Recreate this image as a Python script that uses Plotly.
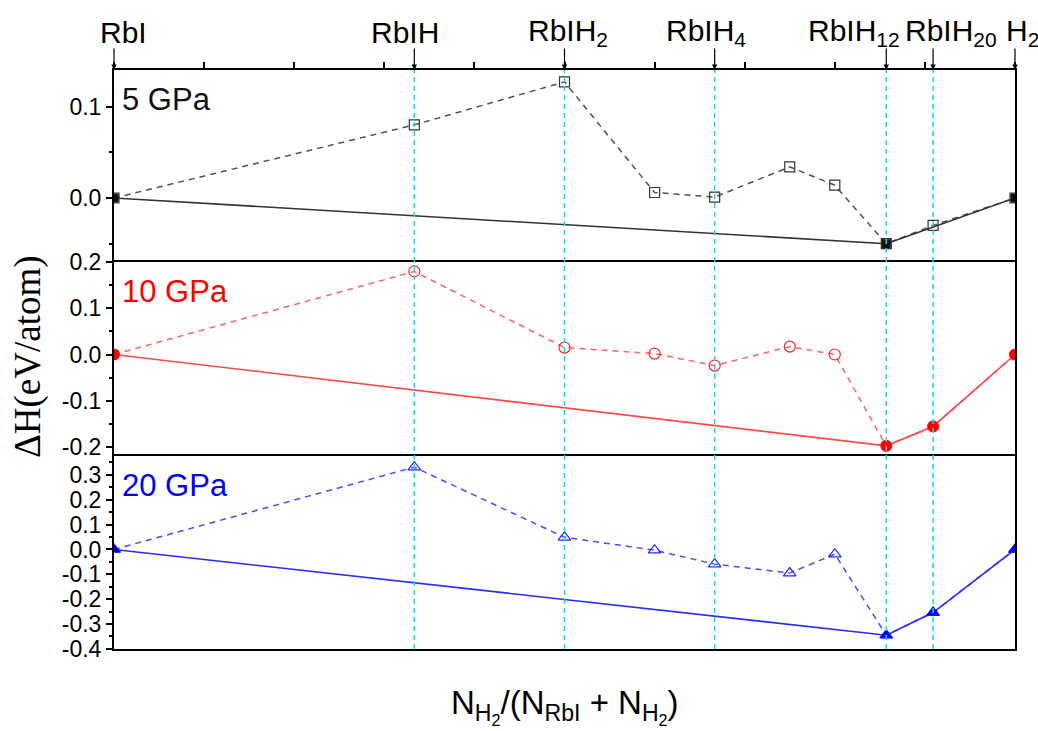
import plotly.graph_objects as go

# Composition x = N_H2 / (N_RbI + N_H2)
compounds = ["RbI", "RbIH", "RbIH2", "RbIH3", "RbIH4", "RbIH6", "RbIH8", "RbIH12", "RbIH20", "H2"]
x_frac = [0, 1/3, 1/2, 3/5, 2/3, 3/4, 4/5, 6/7, 10/11, 1]

# Formation enthalpies (eV/atom)
dh_5gpa = [0.0, 0.080, 0.127, 0.006, 0.001, 0.034, 0.014, -0.050, -0.030, 0.0]
dh_10gpa = [0.0, 0.180, 0.015, 0.002, -0.024, 0.017, 0.000, -0.198, -0.156, 0.0]
dh_20gpa = [0.0, 0.331, 0.049, -0.003, -0.059, -0.095, -0.019, -0.345, -0.254, 0.0]

# Phases on the convex hull at each pressure
hull_5gpa = ["RbI", "RbIH12", "H2"]
hull_10gpa = ["RbI", "RbIH12", "RbIH20", "H2"]
hull_20gpa = ["RbI", "RbIH12", "RbIH20", "H2"]

# Top-axis composition labels
top_names = ["RbI", "RbIH", "RbIH2", "RbIH4", "RbIH12", "RbIH20", "H2"]
top_labels = ["RbI", "RbIH", "RbIH<sub>2</sub>", "RbIH<sub>4</sub>", "RbIH<sub>12</sub>",
              "RbIH<sub>20</sub>", "H<sub>2</sub>"]
top_label_shift = [-16, -45, -39, -51, -80, -30, -11]
guide_names = ["RbIH", "RbIH2", "RbIH4", "RbIH12", "RbIH20"]

# y tick labels per panel
ticks_5 = [0.1, 0.0]
ticks_10 = [0.2, 0.1, 0.0, -0.1, -0.2]
ticks_20 = [0.3, 0.2, 0.1, 0.0, -0.1, -0.2, -0.3, -0.4]

W, H = 1038, 731
FONT = "Liberation Sans, Arial, sans-serif"
x_dom = [114 / W, 1015 / W]
y_edges = [70, 262, 456, 649]
ydoms = [[1 - y_edges[i + 1] / H, 1 - y_edges[i] / H] for i in range(3)]

xpos = dict(zip(compounds, x_frac))

panels = [
    dict(name="5 GPa", dh=dh_5gpa, hull=hull_5gpa, color="#111111", line="#333333",
         open_sym="square-open", fill_sym="square", osize=10, fsize=9,
         rng=[-0.07, 0.14], ticks=ticks_5),
    dict(name="10 GPa", dh=dh_10gpa, hull=hull_10gpa, color="#ff0000", line="#ff4a4a",
         open_sym="circle-open", fill_sym="circle", osize=11, fsize=11,
         rng=[-0.22, 0.2005], ticks=ticks_10),
    dict(name="20 GPa", dh=dh_20gpa, hull=hull_20gpa, color="#0000ff", line="#2b2bff",
         open_sym="triangle-up-open", fill_sym="triangle-up", osize=11, fsize=12,
         rng=[-0.4005, 0.376], ticks=ticks_20),
]

fig = go.Figure()
annotations = []
shapes = []
layout = dict(
    template="none",
    width=W, height=H, autosize=False,
    margin=dict(l=0, r=0, t=0, b=0, pad=0),
    paper_bgcolor="white", plot_bgcolor="white",
    showlegend=False,
    font=dict(family=FONT, size=23, color="black"),
)

for i, p in enumerate(panels):
    k = "" if i == 0 else str(i + 1)
    xa, ya = "x" + k, "y" + k
    dh = p["dh"]
    # all computed structures, dashed
    fig.add_trace(go.Scatter(
        x=x_frac, y=dh, xaxis=xa, yaxis=ya, mode="lines+markers",
        line=dict(color=p["line"], width=1.5, dash="6px,5px"),
        marker=dict(symbol=p["open_sym"], size=p["osize"], color=p["color"],
                    line=dict(width=1.2, color=p["color"])),
        opacity=0.85,
    ))
    # convex hull, solid
    hx = [xpos[c] for c in p["hull"]]
    hy = [dh[compounds.index(c)] for c in p["hull"]]
    fig.add_trace(go.Scatter(
        x=hx, y=hy, xaxis=xa, yaxis=ya, mode="lines+markers",
        line=dict(color=p["line"], width=1.6),
        marker=dict(symbol=p["fill_sym"], size=p["fsize"], color=p["color"],
                    line=dict(width=0)),
    ))
    top = i == 0
    last = i == 2
    layout["xaxis" + k] = dict(
        domain=x_dom, range=[0, 1], anchor=ya, side="bottom" if last else "top",
        showline=True, linecolor="black", linewidth=2, mirror=last,
        showgrid=False, zeroline=False, automargin=False,
        ticks="outside" if top else "", ticklen=6, tickwidth=1.5, tickcolor="black",
        tickmode="linear", tick0=0, dtick=0.1, showticklabels=False,
        **({} if top else dict(matches="x")),
    )
    layout["yaxis" + k] = dict(
        domain=ydoms[i], range=p["rng"], anchor=xa,
        showline=True, linecolor="black", linewidth=2, mirror=True,
        showgrid=False, zeroline=False, automargin=False,
        ticks="outside", ticklen=6, tickwidth=1.5, tickcolor="black",
        tickmode="array", tickvals=p["ticks"],
        ticktext=[f"{v:.1f}" for v in p["ticks"]],
        tickfont=dict(family=FONT, size=23, color="black"),
        minor=dict(ticks="outside", ticklen=3, tickwidth=1.5, tickcolor="black",
                   tickmode="linear", tick0=0.05, dtick=0.1),
    )
    annotations.append(dict(
        text=p["name"], xref="paper", yref="paper",
        x=120 / W, xanchor="left", y=1 - (y_edges[i] + 29) / H, yanchor="middle",
        showarrow=False, font=dict(family=FONT, size=31, color=p["color"]),
    ))

# guide lines at the named compositions
for c in guide_names:
    shapes.append(dict(
        type="line", xref="x", yref="paper", x0=xpos[c], x1=xpos[c],
        y0=ydoms[2][0], y1=ydoms[0][1],
        line=dict(color="#00e1ee", width=1.5, dash="5px,4px"), layer="above",
    ))

# arrows and labels along the top axis
for name, lab, sh in zip(top_names, top_labels, top_label_shift):
    annotations.append(dict(
        x=xpos[name], xref="x", y=ydoms[0][1], yref="paper", text="",
        showarrow=True, ax=0, ay=-23, arrowhead=2, arrowsize=0.9,
        arrowwidth=1.2, arrowcolor="black", standoff=0,
    ))
    annotations.append(dict(
        x=xpos[name], xref="x", xshift=sh, xanchor="left",
        y=1 - 32 / H, yref="paper", yanchor="middle", text=lab,
        showarrow=False, font=dict(family=FONT, size=30, color="black"),
    ))

# axis titles
annotations.append(dict(
    text="ΔH(eV/atom)", xref="paper", yref="paper", x=28 / W, y=1 - 357 / H,
    xanchor="center", yanchor="middle", textangle=-90, showarrow=False,
    font=dict(family="Liberation Serif, Times New Roman, serif", size=37, color="black"),
))
annotations.append(dict(
    text="N<sub>H<sub>2</sub></sub>/(N<sub>RbI</sub> + N<sub>H<sub>2</sub></sub>)",
    xref="paper", yref="paper", x=(x_dom[0] + x_dom[1]) / 2, y=1 - 706 / H,
    xanchor="center", yanchor="middle", showarrow=False,
    font=dict(family=FONT, size=33, color="black"),
))

layout["annotations"] = annotations
layout["shapes"] = shapes
fig.update_layout(**layout)
fig.write_html("out.html")
